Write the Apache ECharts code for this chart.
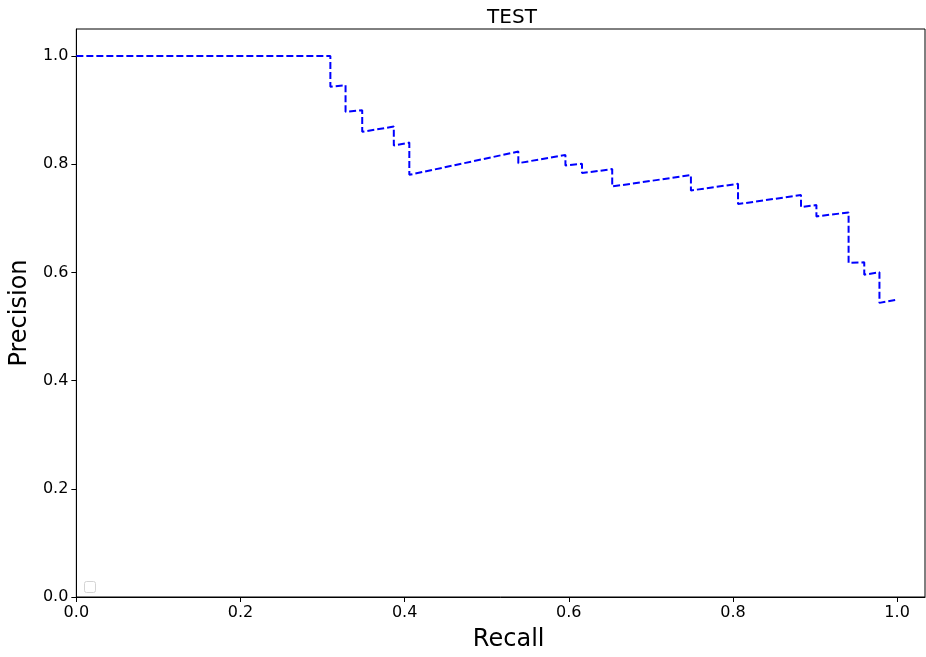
<!DOCTYPE html>
<html>
<head>
<meta charset="utf-8">
<script src="https://cdn.jsdelivr.net/npm/echarts@6/dist/echarts.min.js"></script>
<style>
html,body{margin:0;padding:0;background:#fff;}
#chart{width:926px;height:657px;}
</style>
</head>
<body>
<div id="chart"></div>
<script>
const titleText = 'TEST';
const xAxisName = 'Recall';
const yAxisName = 'Precision';
const xTicks = [0, 0.2, 0.4, 0.6, 0.8, 1.0];
const yTicks = [0, 0.2, 0.4, 0.6, 0.8, 1.0];
const recall = [0, 0.3095, 0.3095, 0.328, 0.328, 0.3483, 0.3483, 0.3868, 0.3868, 0.4057, 0.4057,
  0.5385, 0.5385, 0.5959, 0.5959, 0.6161, 0.6161, 0.6529, 0.6529, 0.7488, 0.7488, 0.8062, 0.8062,
  0.8829, 0.8829, 0.9017, 0.9017, 0.9409, 0.9409, 0.960, 0.960, 0.9785, 0.9785, 1.0];
const precision = [1.0, 1.0, 0.9434, 0.946, 0.897, 0.900, 0.860, 0.8696, 0.8345, 0.840, 0.7804,
  0.8234, 0.802, 0.8173, 0.7976, 0.8007, 0.7836, 0.791, 0.7589, 0.7799, 0.7515, 0.7638, 0.7264,
  0.743, 0.7210, 0.7245, 0.7035, 0.7109, 0.6175, 0.6186, 0.5959, 0.6002, 0.5437, 0.5498];

const font = 'DejaVu Sans';
const chart = echarts.init(document.getElementById('chart'), null, {renderer: 'canvas'});
const fmt = v => v.toFixed(1);
chart.setOption({
  animation: false,
  backgroundColor: '#fff',
  title: {
    text: titleText, left: 507, top: 3, textAlign: 'center',
    textStyle: {fontFamily: font, fontSize: 20, fontWeight: 'normal', color: '#000'}
  },
  grid: {left: 73, right: 1, top: 29, bottom: 59, show: true, borderColor: '#000', borderWidth: 1, backgroundColor: 'transparent'},
  xAxis: {
    type: 'value', min: 0, max: 1.034,
    name: xAxisName, nameLocation: 'middle', nameGap: 31,
    nameTextStyle: {fontFamily: font, fontSize: 24, color: '#000', padding: [0, 0, 0, 16]},
    axisLine: {show: true, lineStyle: {color: '#000', width: 1}},
    axisTick: {show: true, inside: false, length: 5, customValues: xTicks, lineStyle: {color: '#000'}},
    axisLabel: {customValues: xTicks, formatter: fmt, fontFamily: font, fontSize: 16, color: '#000', margin: 8},
    splitLine: {show: false}
  },
  yAxis: {
    type: 'value', min: 0, max: 1.05,
    name: yAxisName, nameLocation: 'middle', nameGap: 35,
    nameTextStyle: {fontFamily: font, fontSize: 24, color: '#000'},
    axisLine: {show: true, lineStyle: {color: '#000', width: 1}},
    axisTick: {show: true, inside: false, length: 5, customValues: yTicks, lineStyle: {color: '#000'}},
    axisLabel: {customValues: yTicks, formatter: fmt, fontFamily: font, fontSize: 16, color: '#000', margin: 8},
    splitLine: {show: false}
  },
  graphic: [{
    type: 'rect', left: 84, top: 581,
    shape: {width: 11, height: 11, r: 2},
    style: {fill: '#fff', stroke: '#d4d4d4', lineWidth: 1}
  }],
  series: [{
    type: 'line',
    data: recall.map((r, i) => [r, precision[i]]),
    showSymbol: false, symbol: 'none',
    lineStyle: {color: '#0000ff', width: 2, type: [7, 3]}
  }]
});
</script>
</body>
</html>
